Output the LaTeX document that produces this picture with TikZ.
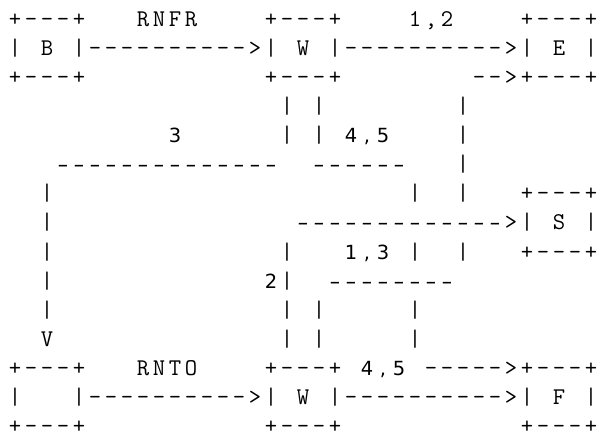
\documentclass[tikz,border=0pt]{standalone}
\usepackage{fontspec}
\usepackage{graphicx}
\newfontfamily\fbsans{DejaVu Sans}
\ExplSyntaxOn
\NewDocumentCommand\gridtext{m}{\str_map_inline:nn {#1}{\makebox[16pt][c]{##1}}}
\NewDocumentCommand\fbgridtext{m}{\str_map_inline:nn {#1}{\makebox[16pt][c]{\str_if_eq:nnTF {##1}{-}{\scalebox{1.6}[1]{-}}{##1}}}}
\ExplSyntaxOff
\tikzset{
  cell/.style={anchor=base west, inner sep=0pt, outer sep=0pt},
  mono/.style={cell, font=\ttfamily\fontsize{24}{24}\selectfont},
  fallback/.style={cell, font=\fbsans\fontsize{19.5}{19.5}\selectfont}
}
% #1 name, #2 column, #3 line, #4 text
\newcommand\mtok[4]{\node[mono] (#1) at ({7+16*#2},{411.5-29.07*(#3-1)}) {\gridtext{#4}};}
\newcommand\ftok[4]{\node[fallback] (#1) at ({7+16*#2},{411.5-29.07*(#3-1)}) {\fbgridtext{#4}};}
\begin{document}
\begin{tikzpicture}[x=1pt,y=1pt]
\useasboundingbox (0,0) rectangle (600,438);
% line 1
\mtok{a1}{0}{1}{+---+}
\mtok{a2}{8}{1}{RNFR}
\mtok{a3}{16}{1}{+---+}
\mtok{a4}{25}{1}{1,2}
\mtok{a5}{32}{1}{+---+}
% line 2
\mtok{b1}{0}{2}{| B |---------->| W |---------->| E |}
% line 3
\mtok{c1}{0}{3}{+---+}
\mtok{c2}{16}{3}{+---+}
\mtok{c3}{29}{3}{-->+---+}
% line 4
\mtok{d1}{17}{4}{| |}
\mtok{d2}{28}{4}{|}
% line 5
\ftok{e1}{10}{5}{3}
\mtok{e2}{17}{5}{| |}
\ftok{e3}{21}{5}{4,5}
\mtok{e4}{28}{5}{|}
% line 6
\ftok{f1}{3}{6}{--------------}
\ftok{f2}{19}{6}{------}
\mtok{f3}{28}{6}{|}
% line 7
\mtok{g1}{2}{7}{|}
\mtok{g2}{25}{7}{|}
\mtok{g3}{28}{7}{|}
\mtok{g4}{32}{7}{+---+}
% line 8
\mtok{h1}{2}{8}{|}
\ftok{h2}{18}{8}{-------------}
\mtok{h3}{31}{8}{>| S |}
% line 9
\mtok{i1}{2}{9}{|}
\mtok{i2}{17}{9}{|}
\ftok{i3}{21}{9}{1,3}
\mtok{i4}{25}{9}{|}
\mtok{i5}{28}{9}{|}
\mtok{i6}{32}{9}{+---+}
% line 10
\mtok{j1}{2}{10}{|}
\ftok{j2}{16}{10}{2}
\mtok{j3}{17}{10}{|}
\ftok{j4}{20}{10}{--------}
% line 11
\mtok{k1}{2}{11}{|}
\mtok{k2}{17}{11}{| |}
\mtok{k3}{25}{11}{|}
% line 12
\mtok{l1}{2}{12}{V}
\mtok{l2}{17}{12}{| |}
\mtok{l3}{25}{12}{|}
% line 13
\mtok{m1}{0}{13}{+---+}
\mtok{m2}{8}{13}{RNTO}
\mtok{m3}{16}{13}{+---+}
\ftok{m4}{22}{13}{4,5}
\mtok{m5}{26}{13}{----->+---+}
% line 14
\mtok{n1}{0}{14}{|}
\mtok{n2}{4}{14}{|---------->| W |---------->| F |}
% line 15
\mtok{o1}{0}{15}{+---+}
\mtok{o2}{16}{15}{+---+}
\mtok{o3}{32}{15}{+---+}
\end{tikzpicture}
\end{document}
